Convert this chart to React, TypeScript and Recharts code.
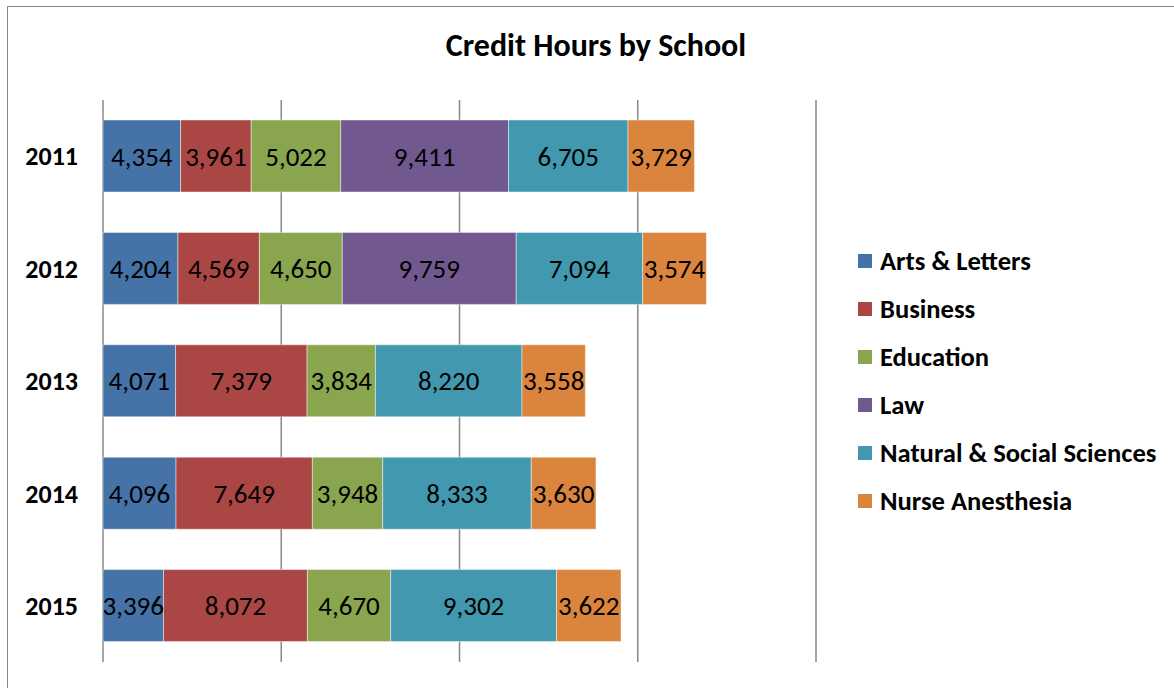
import React from 'react';
import { BarChart, Bar, XAxis, YAxis, CartesianGrid, LabelList } from 'recharts';

const years = ['2011', '2012', '2013', '2014', '2015'];
const artsLetters = [4354, 4204, 4071, 4096, 3396];
const business = [3961, 4569, 7379, 7649, 8072];
const education = [5022, 4650, 3834, 3948, 4670];
const law = [9411, 9759, null, null, null];
const naturalSocial = [6705, 7094, 8220, 8333, 9302];
const nurseAnesthesia = [3729, 3574, 3558, 3630, 3622];
const xTicks = [0, 10000, 20000, 30000, 40000];

const SERIES = [
  { key: 'arts', name: 'Arts & Letters', values: artsLetters, color: '#4572A7' },
  { key: 'business', name: 'Business', values: business, color: '#AA4643' },
  { key: 'education', name: 'Education', values: education, color: '#89A54E' },
  { key: 'law', name: 'Law', values: law, color: '#71588F' },
  { key: 'natural', name: 'Natural & Social Sciences', values: naturalSocial, color: '#4198AF' },
  { key: 'nurse', name: 'Nurse Anesthesia', values: nurseAnesthesia, color: '#DB843D' },
];

const FONT = 'Carlito, Lato, "Open Sans", sans-serif';

const data = years.map((year, i) => {
  const row: Record<string, string | number | null> = { year };
  SERIES.forEach((s) => {
    row[s.key] = s.values[i];
  });
  return row;
});

const SegmentLabel = (props: any) => {
  const { x, y, width, height, value } = props;
  if (!value) return null;
  return (
    <text
      x={x + width / 2}
      y={y + height / 2}
      textAnchor="middle"
      dominantBaseline="central"
      fill="#000"
      fontSize={27}
      fontFamily={FONT}
    >
      {Number(value).toLocaleString('en-US')}
    </text>
  );
};

// legend sits outside the chart so it doesn't eat into the plot height
const LegendList = () => (
  <div style={{ position: 'absolute', left: 858, top: 237, fontFamily: FONT }}>
    {SERIES.map((s) => (
      <div key={s.key} style={{ display: 'flex', alignItems: 'center', height: 48 }}>
        <span style={{ width: 14, height: 14, background: s.color, marginRight: 8, display: 'inline-block' }} />
        <span style={{ fontSize: 26.6, fontWeight: 700, color: '#000', whiteSpace: 'nowrap' }}>{s.name}</span>
      </div>
    ))}
  </div>
);

const App: React.FC = () => {
  return (
    <div style={{ position: 'absolute', left: 0, top: 0, width: 1174, height: 688, overflow: 'hidden', background: '#fff' }}>
      <div
        style={{
          position: 'absolute',
          left: 7,
          top: 6,
          width: 1200,
          height: 720,
          border: '1.5px solid #888',
          boxSizing: 'border-box',
        }}
      />
      <div
        style={{
          position: 'absolute',
          left: 0,
          width: 1192,
          top: 26,
          textAlign: 'center',
          fontFamily: FONT,
          fontWeight: 700,
          fontSize: 32,
          color: '#000',
        }}
      >
        Credit Hours by School
      </div>
      <BarChart
        width={1174}
        height={688}
        data={data}
        layout="vertical"
        margin={{ top: 100, right: 358, left: 0, bottom: 26 }}
        style={{ position: 'absolute', left: 0, top: 0 }}
      >
        <CartesianGrid horizontal={false} stroke="#888" strokeWidth={1.5} />
        <XAxis type="number" domain={[0, 40000]} ticks={xTicks} hide />
        <YAxis
          type="category"
          dataKey="year"
          width={103}
          axisLine={false}
          tickLine={false}
          tickSize={0}
          tickMargin={25}
          tick={{ fill: '#000', fontSize: 26, fontWeight: 700, fontFamily: FONT }}
        />
        {SERIES.map((s) => (
          <Bar
            key={s.key}
            dataKey={s.key}
            name={s.name}
            stackId="a"
            fill={s.color}
            stroke="rgba(255,255,255,0.45)"
            strokeWidth={1}
            barSize={72}
            isAnimationActive={false}
          >
            <LabelList dataKey={s.key} content={<SegmentLabel />} />
          </Bar>
        ))}
      </BarChart>
      <LegendList />
    </div>
  );
};

export default App;
